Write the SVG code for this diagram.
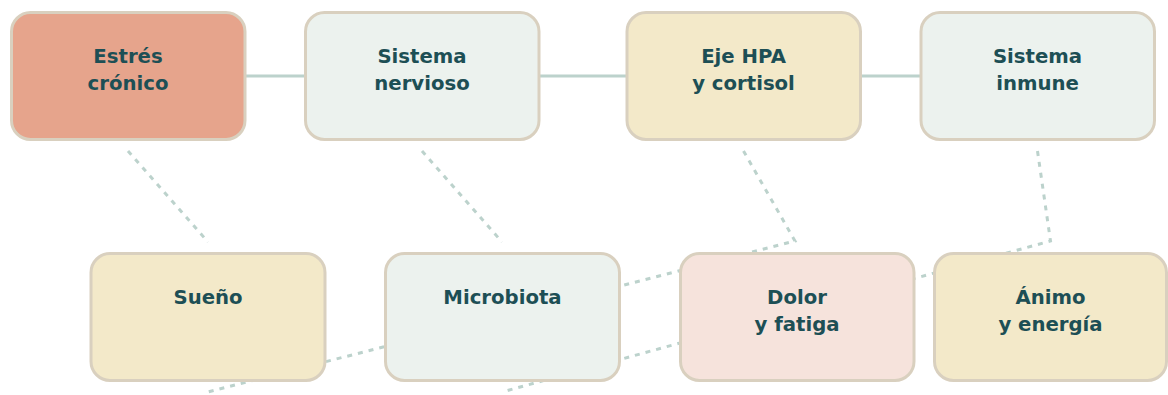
<svg xmlns="http://www.w3.org/2000/svg" width="1168" height="395" viewBox="0 0 1168 395">
<style>
.box{stroke:#d9d0bf;stroke-width:3}
.red{fill:#e6a48c}
.green{fill:#ecf2ee}
.cream{fill:#f3e9c9}
.pink{fill:#f6e3dc}
.lbl{font-family:"DejaVu Sans",sans-serif;font-weight:bold;font-size:19.7px;fill:#1d4f55;text-anchor:middle}
.solid{stroke:#bcd2cc;stroke-width:3;fill:none}
.dash{stroke:#bcd2cc;stroke-width:3;fill:none;stroke-dasharray:5 6}
</style>
<rect width="1168" height="395" fill="#ffffff"/>
<g id="connectors">
<line class="solid" x1="128" y1="76" x2="422" y2="76"/>
<line class="solid" x1="422" y1="76" x2="743.5" y2="76"/>
<line class="solid" x1="743.5" y1="76" x2="1037.5" y2="76"/>
<line class="dash" x1="128" y1="151" x2="208" y2="242"/>
<line class="dash" x1="422" y1="151" x2="502" y2="242"/>
<polyline class="dash" points="743.5,151 795,241 208,392"/>
<polyline class="dash" points="1037.5,151 1050.5,241 502,392"/>
</g>
<g id="n-estres">
<rect class="box red" x="11.5" y="12.5" width="233.5" height="127" rx="19"/>
<text class="lbl" x="128" y="63">Estrés</text>
<text class="lbl" x="128" y="90">crónico</text>
</g>
<g id="n-nervioso">
<rect class="box green" x="305.5" y="12.5" width="233.5" height="127" rx="19"/>
<text class="lbl" x="422" y="63">Sistema</text>
<text class="lbl" x="422" y="90">nervioso</text>
</g>
<g id="n-hpa">
<rect class="box cream" x="627" y="12.5" width="233.5" height="127" rx="19"/>
<text class="lbl" x="743.5" y="63">Eje HPA</text>
<text class="lbl" x="743.5" y="90">y cortisol</text>
</g>
<g id="n-inmune">
<rect class="box green" x="921" y="12.5" width="233.5" height="127" rx="19"/>
<text class="lbl" x="1037.5" y="63">Sistema</text>
<text class="lbl" x="1037.5" y="90">inmune</text>
</g>
<g id="n-sueno">
<rect class="box cream" x="91" y="253.5" width="234" height="127" rx="19"/>
<text class="lbl" x="208" y="304">Sueño</text>
</g>
<g id="n-microbiota">
<rect class="box green" x="385.5" y="253.5" width="234" height="127" rx="19"/>
<text class="lbl" x="502.5" y="304">Microbiota</text>
</g>
<g id="n-dolor">
<rect class="box pink" x="680.5" y="253.5" width="233.5" height="127" rx="19"/>
<text class="lbl" x="797" y="304">Dolor</text>
<text class="lbl" x="797" y="331">y fatiga</text>
</g>
<g id="n-animo">
<rect class="box cream" x="934.5" y="253.5" width="232" height="127" rx="19"/>
<text class="lbl" x="1050.5" y="304">Ánimo</text>
<text class="lbl" x="1050.5" y="331">y energía</text>
</g>
</svg>
